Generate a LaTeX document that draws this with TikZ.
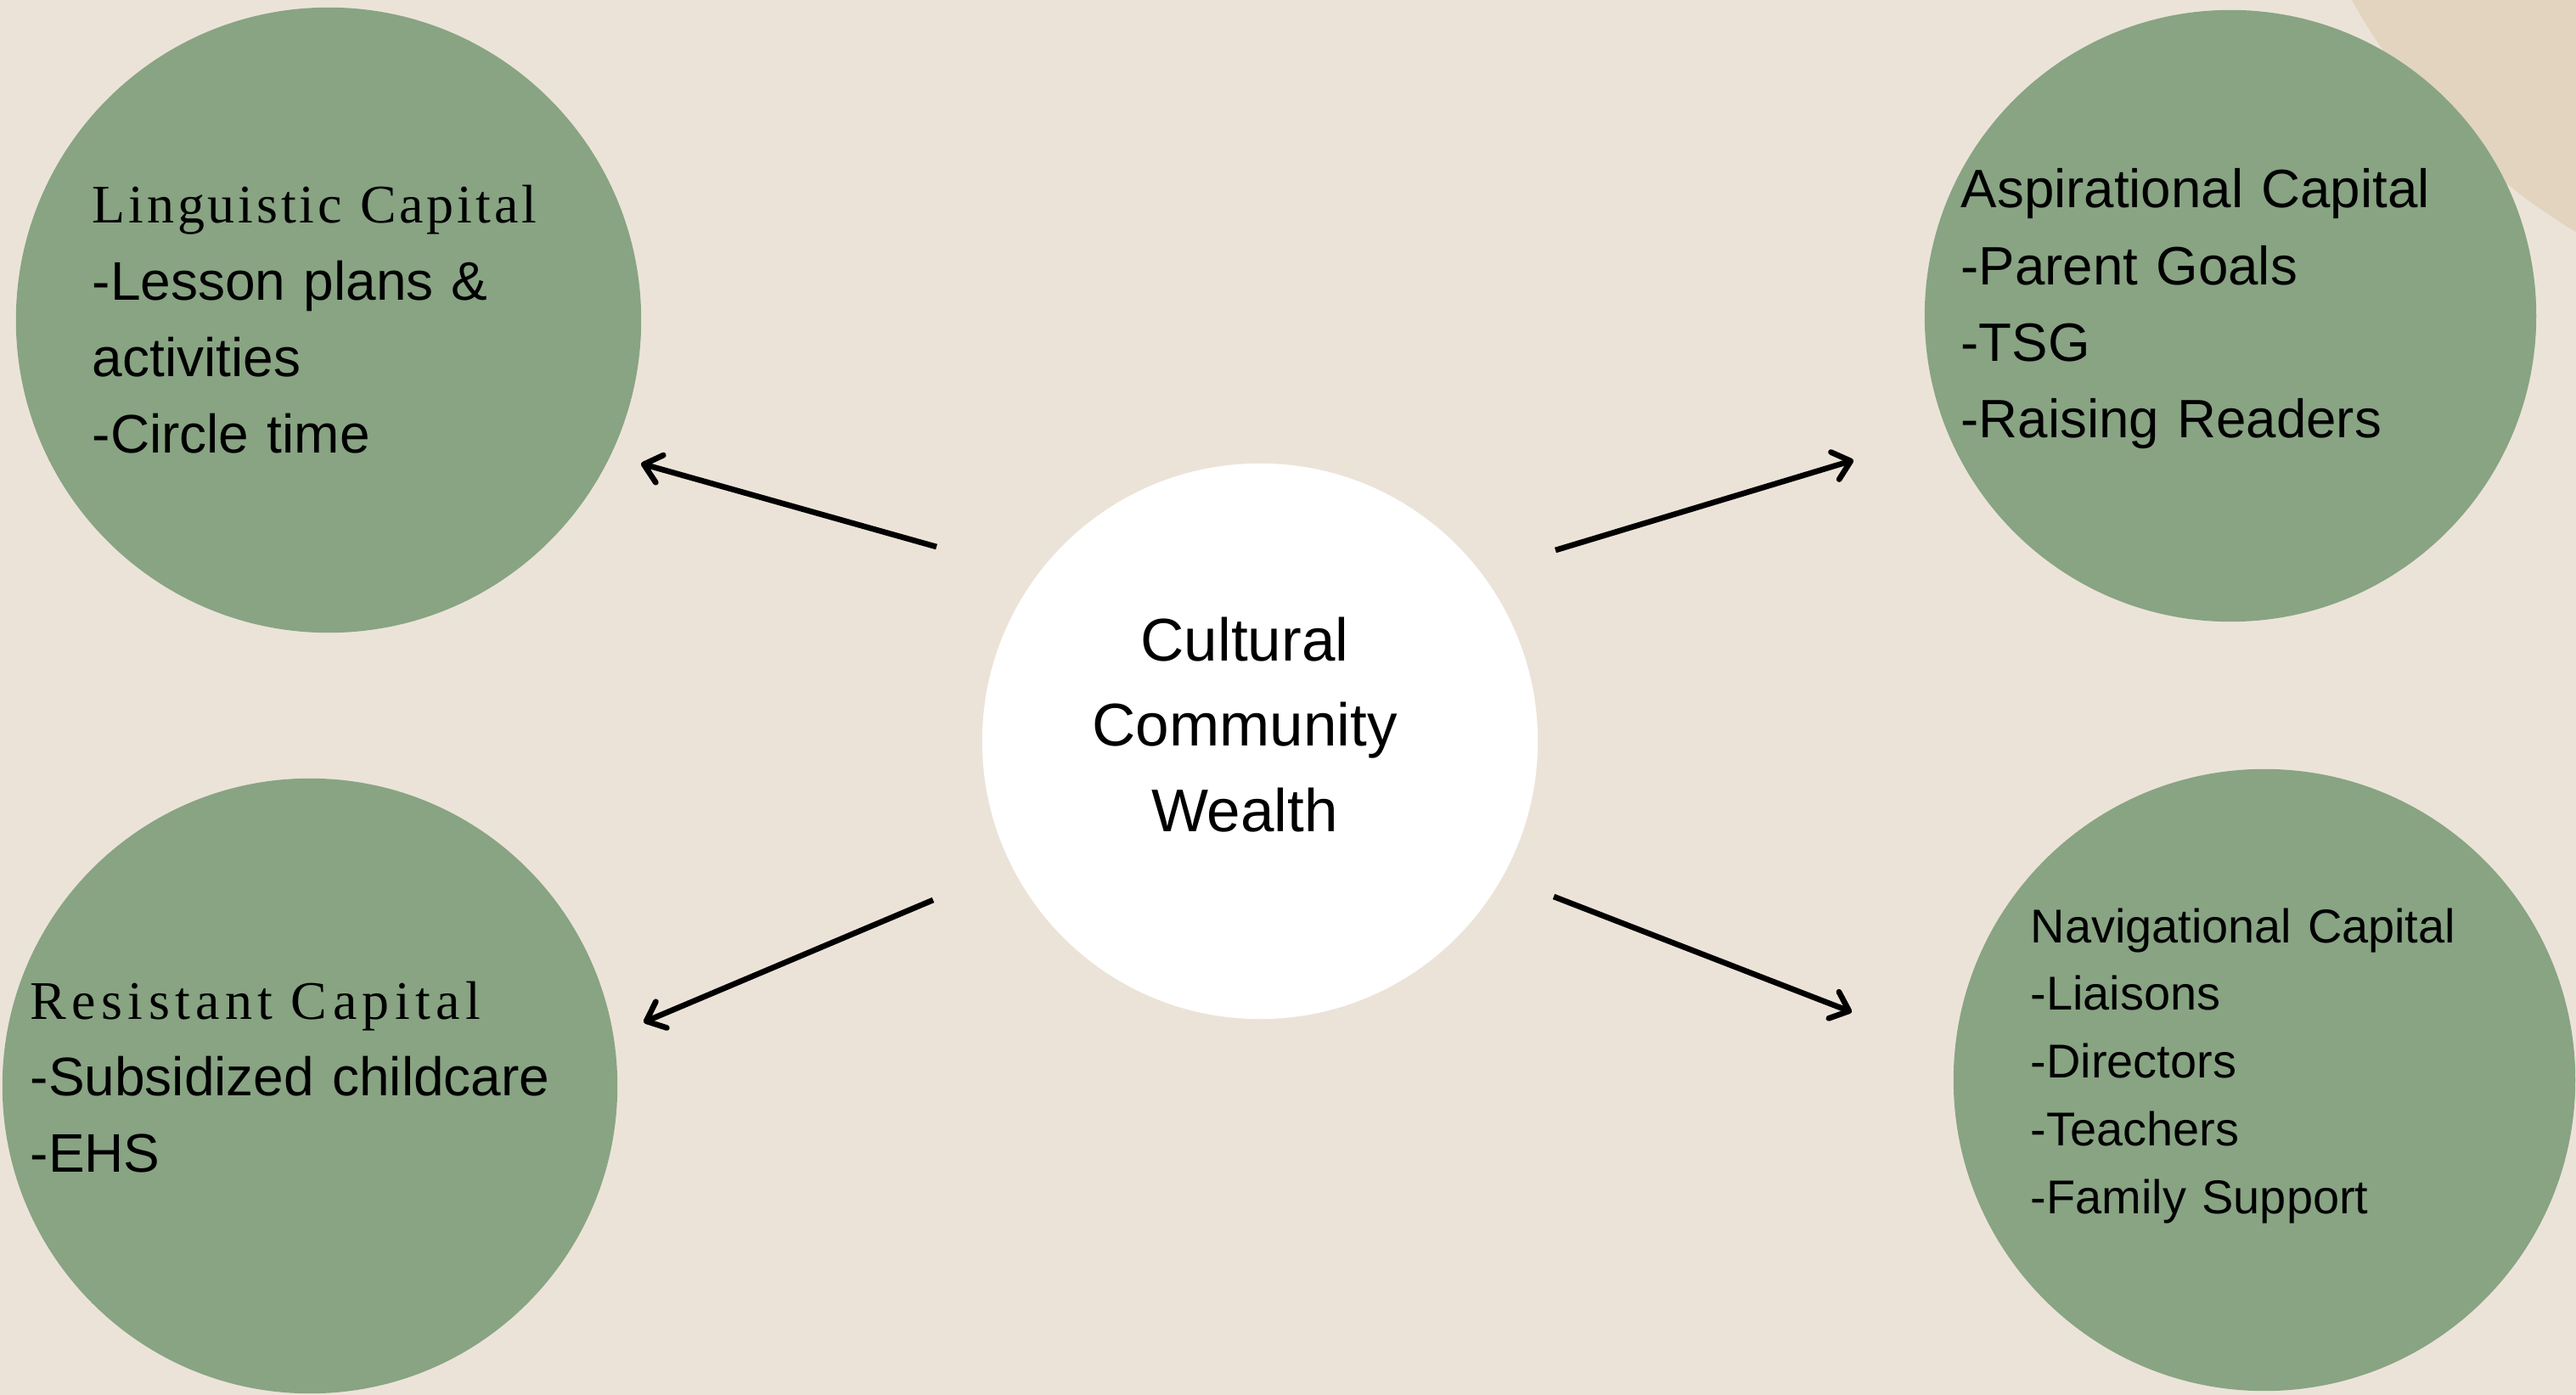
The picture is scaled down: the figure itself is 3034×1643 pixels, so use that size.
\documentclass[tikz,border=0pt]{standalone}
\usepackage{fontspec}
\setmainfont{Liberation Sans}
\newfontfamily\lingserif[LetterSpace=6]{Liberation Serif}
\newfontfamily\resserif[LetterSpace=10]{Liberation Serif}
\usetikzlibrary{arrows.meta}
\definecolor{paper}{HTML}{ECE3D8}
\definecolor{sand}{HTML}{E2D4BF}
\definecolor{sage}{HTML}{88A483}
\tikzstyle{capital} = [circle, fill=sage, inner sep=0pt]
\tikzstyle{hub} = [circle, fill=white, inner sep=0pt, minimum size=6.54cm]
\tikzstyle{list} = [anchor=base west, inner sep=0pt, text width=7cm, align=left]
\tikzstyle{line} = [draw, line width=1.9pt, -{Straight Barb[length=5.5pt, width=9.5pt, round]}]

\begin{document}
\begin{tikzpicture}[x=0.01cm, y=-0.01cm]
    % Background
    \fill[paper] (0,0) rectangle (3034,1643);
    \useasboundingbox (0,0) rectangle (3034,1643);
    \begin{scope}
        \clip (0,0) rectangle (3034,1643);
        \fill[sand] (3413,-357) circle [radius=7.35cm];
    \end{scope}
    % Place nodes
    \node [capital, minimum size=7.36cm] (ling) at (387,377) {};
    \node [capital, minimum size=7.2cm] (asp) at (2627,372) {};
    \node [capital, minimum size=7.24cm] (res) at (365,1279) {};
    \node [capital, minimum size=7.32cm] (nav) at (2667,1272) {};
    \node [hub] (hub) at (1484,873) {};
    \node [list, font=\fontsize{18.2}{25.6}\selectfont] (lingtext) at (108,263)
        {{\lingserif Linguistic Capital}\\-Lesson plans \&\\activities\\-Circle time};
    \node [list, font=\fontsize{18.1}{25.6}\selectfont] (asptext) at (2309,245)
        {Aspirational Capital\\-Parent Goals\\-TSG\\-Raising Readers};
    \node [list, font=\fontsize{18.2}{25.6}\selectfont] (restext) at (35,1200)
        {{\resserif Resistant Capital}\\-Subsidized childcare\\-EHS};
    \node [list, font=\fontsize{15.9}{22.7}\selectfont] (navtext) at (2391,1110)
        {Navigational Capital\\-Liaisons\\-Directors\\-Teachers\\-Family Support};
    \node [anchor=base, inner sep=0pt, text width=6cm, align=center,
        font=\fontsize{20.2}{28.7}\selectfont] (hubtext) at (1466,778)
        {Cultural\\Community\\Wealth};
    % Arrow ends
    \coordinate (hub-nw) at (1103,644);
    \coordinate (ling-in) at (755,546);
    \coordinate (hub-ne) at (1832,648);
    \coordinate (asp-in) at (2183,542);
    \coordinate (hub-sw) at (1099,1060);
    \coordinate (res-in) at (758,1204);
    \coordinate (hub-se) at (1830,1056);
    \coordinate (nav-in) at (2181,1192);
    % Draw edges
    \path [line] (hub-nw) -- (ling-in);
    \path [line] (hub-ne) -- (asp-in);
    \path [line] (hub-sw) -- (res-in);
    \path [line] (hub-se) -- (nav-in);
\end{tikzpicture}
\end{document}
